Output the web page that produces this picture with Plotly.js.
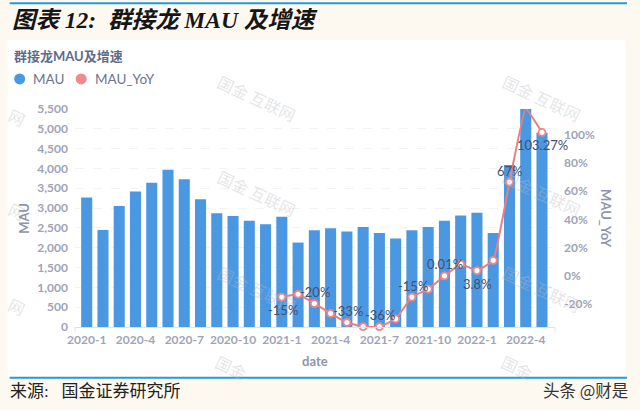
<!DOCTYPE html>
<html><head><meta charset="utf-8">
<script src="https://cdn.plot.ly/plotly-3.0.1.min.js"></script>
<style>html,body{margin:0;padding:0;background:#fdf9f0}#c{width:640px;height:410px}</style>
</head><body><div id="c"></div>
<script>
const categories=['2020-1','2020-2','2020-3','2020-4','2020-5','2020-6','2020-7','2020-8','2020-9','2020-10','2020-11','2020-12','2021-1','2021-2','2021-3','2021-4','2021-5','2021-6','2021-7','2021-8','2021-9','2021-10','2021-11','2021-12','2022-1','2022-2','2022-3','2022-4','2022-5'];
const mau=[3270,2450,3050,3420,3640,3970,3730,3220,2870,2800,2680,2590,2780,2130,2440,2490,2410,2520,2370,2230,2440,2520,2680,2810,2880,2370,4090,5500,4900];
const yoy=[null,null,null,null,null,null,null,null,null,null,null,null,-15,-13,-19.6,-26.5,-33,-36,-36,-30.5,-15,-9.4,0,8.3,3.8,11,66.5,118.5,101.7];
const tickCats=['2020-1','2020-4','2020-7','2020-10','2021-1','2021-4','2021-7','2021-10','2022-1','2022-4'];
const leftTicks=[0,500,1000,1500,2000,2500,3000,3500,4000,4500,5000,5500];
const rightTicks=[-20,0,20,40,60,80,100];
const labelCats=['2021-1','2021-3','2021-5','2021-7','2021-9','2021-11','2022-1','2022-3','2022-5'];
const labelTexts=['-15%','-20%','-33%','-36%','-15%','0.01%','3.8%','67%','103.27%'];
const labelDy=[13,-11.6,-11.7,-11.5,-11,-11.7,13,-11.3,12.7];
const W=640,H=410,L=75.3,R=555,T=109,B=326.7;
const px=x=>(x-L)/(R-L), py=y=>(B-y)/(B-T);
const cjk='"Noto Sans CJK SC","Noto Sans",sans-serif', lato='Lato,"Noto Sans CJK SC",sans-serif';
const tickFont={family:lato,size:12,color:'#a0a4b8',weight:'bold'};
const traces=[
 {type:'bar',name:'MAU',x:categories,y:mau,marker:{color:'#4a98e2'},width:0.68},
 {type:'scatter',name:'MAU_YoY',mode:'lines+markers',x:categories,y:yoy,yaxis:'y2',cliponaxis:false,
  line:{color:'#ee7d80',width:2,shape:'spline',smoothing:0.3},
  marker:{color:'#ffffff',size:7,line:{color:'#ee8589',width:1.8}}}
];
const shapes=[
 {type:'rect',xref:'paper',yref:'paper',x0:px(8),x1:px(626),y0:py(377),y1:py(40),fillcolor:'#ffffff',line:{width:0},layer:'below'},
 {type:'line',xref:'paper',yref:'paper',x0:px(10),x1:px(627),y0:py(3.3),y1:py(3.3),line:{color:'#1f9be0',width:2}},
 {type:'line',xref:'paper',yref:'paper',x0:px(10),x1:px(627),y0:py(377.5),y1:py(377.5),line:{color:'#1f9be0',width:2}},
 {type:'line',xref:'paper',yref:'paper',x0:px(75.3),x1:px(75.3),y0:py(326.7),y1:py(331.5),line:{color:'#e2e2e2',width:1}},
 {type:'line',xref:'paper',yref:'paper',x0:px(555),x1:px(555),y0:py(326.7),y1:py(331.5),line:{color:'#e2e2e2',width:1}},
 {type:'circle',xref:'paper',yref:'paper',x0:px(14.5),x1:px(25.5),y0:py(84.5),y1:py(73.5),fillcolor:'#4a98e2',line:{width:0}},
 {type:'circle',xref:'paper',yref:'paper',x0:px(76),x1:px(87),y0:py(84.5),y1:py(73.5),fillcolor:'#ee8b8c',line:{width:0}}
];
const wmFull=[[257,98],[257,193],[257,289],[542,98],[542,193],[542,289]];
const wmPart=[[17,117,'网'],[17,211,'网'],[17,306,'网'],[231,367,'国金'],[517,367,'国金']];
const wmFont={family:cjk,size:16,color:'rgba(185,185,190,0.38)'};
const ann=(x,y,text,font,o={})=>Object.assign({xref:'paper',yref:'paper',x:px(x),y:py(y),text,showarrow:false,font,xanchor:'left',yanchor:'middle'},o);
const annotations=[];
wmFull.forEach(p=>annotations.push(ann(p[0],p[1],'国金 互联网',wmFont,{xanchor:'center',textangle:25})));
wmPart.forEach(p=>annotations.push(ann(p[0],p[1],p[2],wmFont,{xanchor:'center',textangle:25})));
annotations.push(
 ann(10,20,'<b><i>图表 12:  群接龙 MAU 及增速</i></b>',{family:'"Liberation Serif","Noto Sans CJK SC"',size:23.5,color:'#161616'}),
 ann(12,56,'<b>群接龙MAU及增速</b>',{family:lato,size:13,color:'#5f6b8a'}),
 ann(31,79,'MAU',{family:lato,size:13.5,color:'#6b7491'}),
 ann(93,79,'MAU_YoY',{family:lato,size:13.5,color:'#6b7491'}),
 ann(8,391,'来源:&nbsp;&nbsp;&nbsp;国金证券研究所',{family:'"Liberation Serif","Noto Sans CJK SC"',size:17,color:'#222222'}),
 ann(541,390,'头条 @财是',{family:cjk,size:16.5,color:'#333333'}),
 ann(24,218,'<b>MAU</b>',{family:lato,size:13,color:'#8f95ad'},{xanchor:'center',textangle:-90}),
 ann(606,218,'<b>MAU_YoY</b>',{family:lato,size:13,color:'#8f95ad'},{xanchor:'center',textangle:90}),
 ann(315,361,'<b>date</b>',{family:lato,size:13,color:'#8f95ad'},{xanchor:'center'})
);
labelCats.forEach((c,i)=>annotations.push({xref:'x',yref:'y2',x:c,y:yoy[categories.indexOf(c)],text:labelTexts[i],showarrow:false,xshift:1,yshift:-labelDy[i],
  font:{family:lato,size:13,color:'#44506f'}}));
const layout={width:W,height:H,margin:{l:L,r:W-R,t:T,b:H-B,pad:0},paper_bgcolor:'#fdf9f0',plot_bgcolor:'rgba(0,0,0,0)',showlegend:false,
 xaxis:{type:'category',categoryorder:'array',categoryarray:categories,range:[-0.72,28.8],tickmode:'array',tickvals:tickCats,ticktext:tickCats,ticks:'',showgrid:false,
  showline:true,linecolor:'#e2e2e2',linewidth:1,zeroline:false,tickfont:tickFont,ticklabelstandoff:2},
 yaxis:{range:[0,5500],tickvals:leftTicks,ticktext:leftTicks.map(v=>v.toLocaleString('en-US')),showgrid:true,gridcolor:'#f3f3f3',griddash:'dash',gridwidth:1,zeroline:false,showline:false,ticks:'',
  tickfont:tickFont,ticklabelstandoff:6},
 yaxis2:{overlaying:'y',side:'right',range:[-36.2,118.3],tickvals:rightTicks,ticktext:rightTicks.map(v=>v+'%'),showgrid:false,zeroline:false,showline:false,ticks:'',
  tickfont:tickFont,ticklabelstandoff:8},
 shapes,annotations};
Plotly.newPlot('c',traces,layout,{displayModeBar:false,staticPlot:true});
</script></body></html>
